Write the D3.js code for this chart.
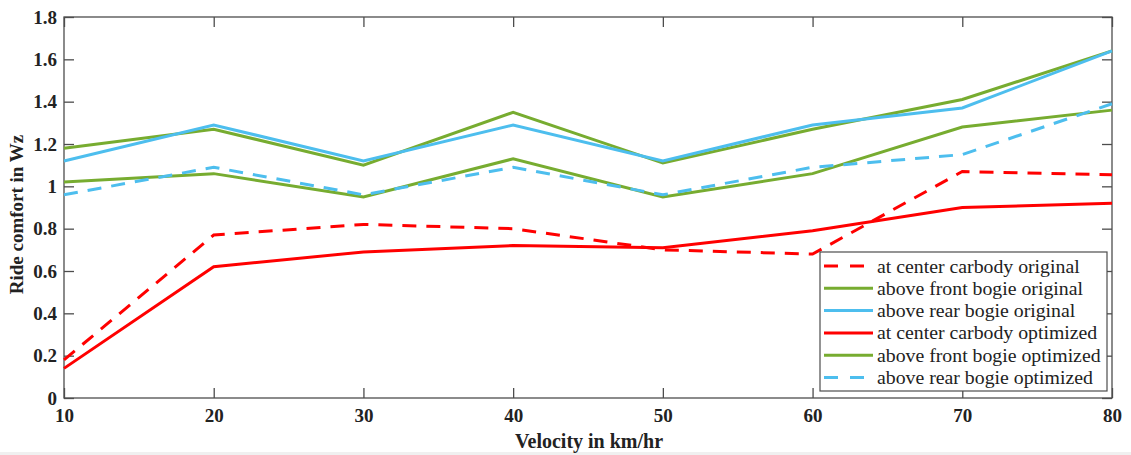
<!DOCTYPE html>
<html><head><meta charset="utf-8">
<script src="https://cdn.jsdelivr.net/npm/d3@7"></script>
<style>body{margin:0;background:#fff;} svg{display:block;}</style>
</head><body>
<script>
const velocity = [10, 20, 30, 40, 50, 60, 70, 80];
const centerOriginal = [0.18, 0.77, 0.82, 0.80, 0.70, 0.68, 1.07, 1.055];
const frontOriginal = [1.18, 1.27, 1.10, 1.35, 1.11, 1.27, 1.41, 1.64];
const rearOriginal = [1.12, 1.29, 1.12, 1.29, 1.12, 1.29, 1.37, 1.64];
const centerOptimized = [0.14, 0.62, 0.69, 0.72, 0.71, 0.79, 0.90, 0.92];
const frontOptimized = [1.02, 1.06, 0.95, 1.13, 0.95, 1.06, 1.28, 1.36];
const rearOptimized = [0.96, 1.09, 0.96, 1.09, 0.96, 1.09, 1.15, 1.39];
const xTicks = [10, 20, 30, 40, 50, 60, 70, 80];
const yTicks = [0, 0.2, 0.4, 0.6, 0.8, 1, 1.2, 1.4, 1.6, 1.8];
const seriesNames = ["at center carbody original", "above front bogie original", "above rear bogie original",
  "at center carbody optimized", "above front bogie optimized", "above rear bogie optimized"];

const RED = "#ff0000", GREEN = "#77ac30", BLUE = "#4dbeee";
const series = [
  {name: seriesNames[0], values: centerOriginal, color: RED, dash: true},
  {name: seriesNames[1], values: frontOriginal, color: GREEN, dash: false},
  {name: seriesNames[2], values: rearOriginal, color: BLUE, dash: false},
  {name: seriesNames[3], values: centerOptimized, color: RED, dash: false},
  {name: seriesNames[4], values: frontOptimized, color: GREEN, dash: false},
  {name: seriesNames[5], values: rearOptimized, color: BLUE, dash: true}
];

const W = 1131, H = 455;
const L = 64, R = 1112, T = 17, B = 398;
const svg = d3.select("body").append("svg").attr("width", W).attr("height", H);
svg.append("rect").attr("x", 0).attr("y", 452).attr("width", W).attr("height", 3).attr("fill", "#f0f0f0");

const x = d3.scaleLinear().domain([10, 80]).range([L, R]);
const y = d3.scaleLinear().domain([0, 1.8]).range([B, T]);
const axisColor = "#4d4d4d";
const fontFam = "'Liberation Serif', 'Times New Roman', serif";

svg.append("rect").attr("x", L).attr("y", T).attr("width", R - L).attr("height", B - T)
  .attr("fill", "none").attr("stroke", axisColor).attr("stroke-width", 1.3);

const tickLen = 10;
const xAxis = svg.append("g").attr("transform", `translate(0,${B})`)
  .call(d3.axisBottom(x).tickValues(xTicks).tickSize(-tickLen).tickPadding(11).tickFormat(d3.format("d")));
const xAxisTop = svg.append("g").attr("transform", `translate(0,${T})`)
  .call(d3.axisTop(x).tickValues(xTicks).tickSize(-tickLen).tickFormat(""));
const yAxis = svg.append("g").attr("transform", `translate(${L},0)`)
  .call(d3.axisLeft(y).tickValues(yTicks).tickSize(-tickLen).tickPadding(7).tickFormat(d => d === 0 ? "0" : d === 1 ? "1" : d3.format(".1f")(d)));
const yAxisR = svg.append("g").attr("transform", `translate(${R},0)`)
  .call(d3.axisRight(y).tickValues(yTicks).tickSize(-tickLen).tickFormat(""));
[xAxis, xAxisTop, yAxis, yAxisR].forEach(g => {
  g.select(".domain").remove();
  g.selectAll(".tick line").attr("stroke", axisColor).attr("stroke-width", 1.3);
  g.selectAll("text").attr("fill", "#222").style("font-family", fontFam)
    .style("font-size", "19px").style("font-weight", "bold");
});

const line = d3.line().x((d, i) => x(velocity[i])).y(d => y(d));
const plotG = svg.append("g");
series.forEach(s => {
  plotG.append("path").datum(s.values).attr("d", line)
    .attr("fill", "none").attr("stroke", s.color).attr("stroke-width", 3)
    .attr("stroke-dasharray", s.dash ? "14,10" : null);
});

svg.append("text").attr("x", (L + R) / 2 + 1).attr("y", 448).attr("text-anchor", "middle")
  .style("font-family", fontFam).style("font-size", "20px").style("font-weight", "bold")
  .attr("fill", "#222").text("Velocity in km/hr");
svg.append("text").attr("transform", `translate(23,${(T + B) / 2 + 7}) rotate(-90)`).attr("text-anchor", "middle")
  .style("font-family", fontFam).style("font-size", "19px").style("font-weight", "bold")
  .attr("fill", "#222").text("Ride comfort in Wz");

const lg = svg.append("g");
lg.append("rect").attr("x", 820).attr("y", 252).attr("width", 287).attr("height", 139)
  .attr("fill", "#fff").attr("stroke", axisColor).attr("stroke-width", 1.2);
series.forEach((s, i) => {
  const cy = 266 + i * 22.3;
  lg.append("line").attr("x1", 824).attr("x2", 873).attr("y1", cy).attr("y2", cy)
    .attr("stroke", s.color).attr("stroke-width", 3)
    .attr("stroke-dasharray", s.dash ? "14,12" : null);
  lg.append("text").attr("x", 877).attr("y", cy + 6.5)
    .style("font-family", fontFam).style("font-size", "19.8px").attr("fill", "#222").text(s.name);
});
</script>
</body></html>
